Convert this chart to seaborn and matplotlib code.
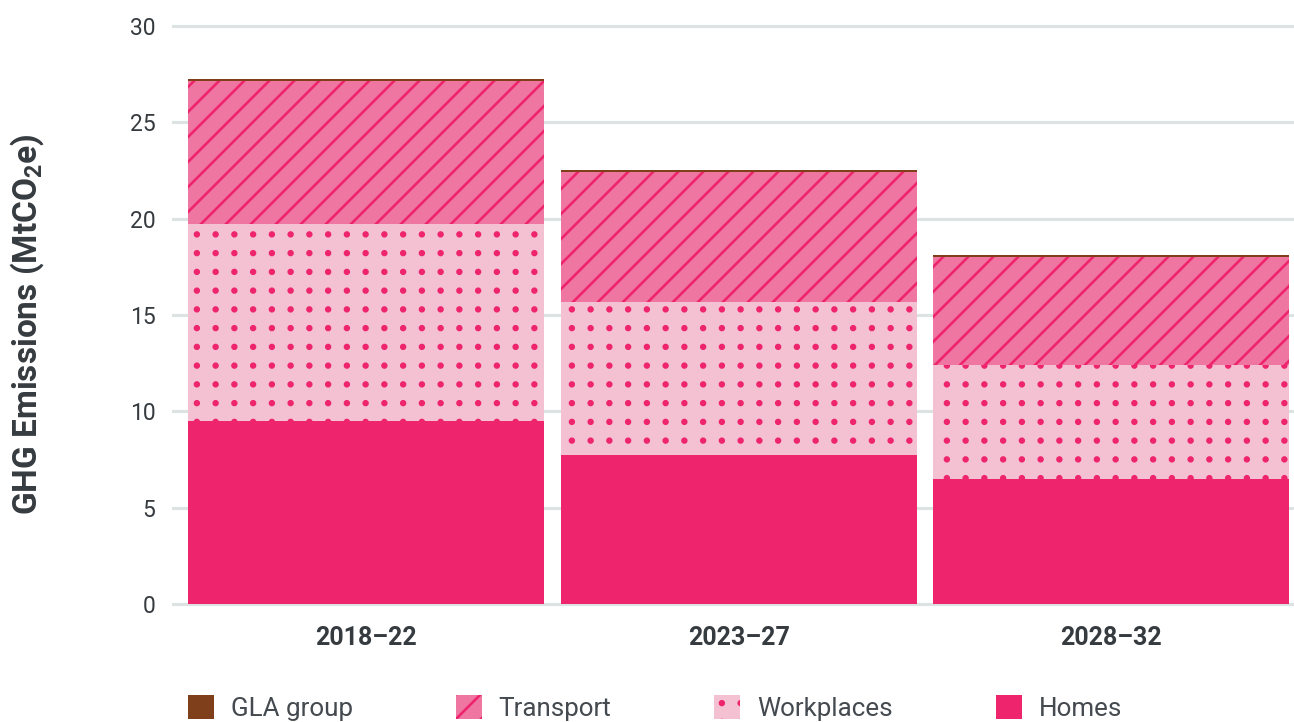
# ========== Libraries ==========

import numpy as np
import pandas as pd
import matplotlib.pyplot as plt
import matplotlib.hatch as mhatch
from matplotlib.path import Path
from matplotlib.patches import Patch
import seaborn as sns


# ========== Data ==========

periods = ['2018–22', '2023–27', '2028–32']
homes = [9.5, 7.73, 6.49]
workplaces = [10.22, 7.94, 5.91]
transport = [7.42, 6.75, 5.61]
gla_group = [0.1, 0.1, 0.1]

# ---------- Colours ----------

HOMES_COL = '#EE246C'
WORK_FACE = '#F4C1D3'
TRANS_FACE = '#EF76A0'
GLA_COL = '#7E3F1A'
TEXT_COL = '#363B40'
GRID_COL = '#DDE3E3'


# ========== Dot hatch ==========

# ---------- Regular (non staggered) grid of dots for the '.' hatch ----------

class GridDots(mhatch.HatchPatternBase):
    size = 0.1

    def __init__(self, hatch, density):
        self.num_rows = hatch.count('.') * 8
        circle = Path.unit_circle()
        self.shape_vertices = circle.vertices
        self.shape_codes = circle.codes
        self.num_vertices = self.num_rows ** 2 * len(self.shape_vertices)

    def set_vertices_and_codes(self, vertices, codes):
        step = 1.0 / self.num_rows
        shape = self.shape_vertices * step * self.size
        n = len(shape)
        cursor = 0
        for i in range(self.num_rows):
            for j in range(self.num_rows):
                vertices[cursor:cursor + n] = shape + ((j + 0.5) * step, (i + 0.5) * step)
                codes[cursor:cursor + n] = self.shape_codes
                cursor += n


mhatch._hatch_types = [GridDots if h is mhatch.SmallFilledCircles else h
                       for h in mhatch._hatch_types]


# ========== Plot ==========

sns.set_style('white')
plt.rcParams['font.family'] = ['Roboto', 'DejaVu Sans']
plt.rcParams['mathtext.fontset'] = 'custom'
plt.rcParams['mathtext.rm'] = 'Roboto'
plt.rcParams['mathtext.bf'] = 'Roboto:bold'
plt.rcParams['hatch.linewidth'] = 1.25

# cumulative tops, drawn from the tallest down so each layer covers the one below
cum_homes = np.array(homes)
cum_work = cum_homes + np.array(workplaces)
cum_trans = cum_work + np.array(transport)
cum_total = cum_trans + np.array(gla_group)

df = pd.DataFrame({
    'period': periods,
    'total': cum_total,
    'transport': cum_trans,
    'workplaces': cum_work,
    'homes': cum_homes,
})

DPI = 150
fig, ax = plt.subplots(figsize=(1294 / DPI, 722 / DPI), dpi=DPI)
fig.subplots_adjust(left=172 / 1294, right=1.0, bottom=0.1594, top=0.9747)

layers = [
    ('total', GLA_COL, None, GLA_COL),
    ('transport', TRANS_FACE, '//', HOMES_COL),
    ('workplaces', WORK_FACE, '.', HOMES_COL),
    ('homes', HOMES_COL, None, HOMES_COL),
]
for col, face, hatch, edge in layers:
    sns.barplot(data=df, x='period', y=col, order=periods, color=face, saturation=1,
                hatch=hatch, edgecolor=edge, linewidth=0, width=0.955,
                errorbar=None, ax=ax)

# Axes styling
ax.set_xlim(-0.52, 2.49)
ax.set_ylim(-0.15, 30.4)
ax.set_yticks([0, 5, 10, 15, 20, 25, 30])
ax.yaxis.grid(True, color=GRID_COL, linewidth=1.5)
ax.xaxis.grid(False)
ax.set_axisbelow(True)
sns.despine(ax=ax, left=True, bottom=True)
ax.tick_params(axis='y', length=0, pad=8, labelsize=11, labelcolor=TEXT_COL)
ax.tick_params(axis='x', length=0, pad=9, labelsize=12, labelcolor=TEXT_COL)
for lbl in ax.get_xticklabels():
    lbl.set_fontweight('bold')

ax.set_xlabel('')
ax.set_ylabel(r'GHG Emissions (MtCO$_\mathbf{2}$e)', fontsize=16, fontweight='bold',
              color=TEXT_COL)
ax.yaxis.set_label_coords(-0.112, 0.48)

# Legend
handles = [
    Patch(facecolor=GLA_COL, edgecolor=GLA_COL, linewidth=0, label='GLA group'),
    Patch(facecolor=TRANS_FACE, edgecolor=HOMES_COL, hatch='//', linewidth=0, label='Transport'),
    Patch(facecolor=WORK_FACE, edgecolor=HOMES_COL, hatch='.', linewidth=0, label='Workplaces'),
    Patch(facecolor=HOMES_COL, edgecolor=HOMES_COL, linewidth=0, label='Homes'),
]
leg = fig.legend(handles=handles, loc='center left', bbox_to_anchor=(188 / 1294, 0.019),
                 ncol=4, frameon=False, fontsize=12.5, handlelength=1.0, handleheight=1.0,
                 handletextpad=0.65, columnspacing=3.95, borderpad=0, borderaxespad=0)
for t in leg.get_texts():
    t.set_color('#444A4F')

fig.savefig('out.png', dpi=DPI)
